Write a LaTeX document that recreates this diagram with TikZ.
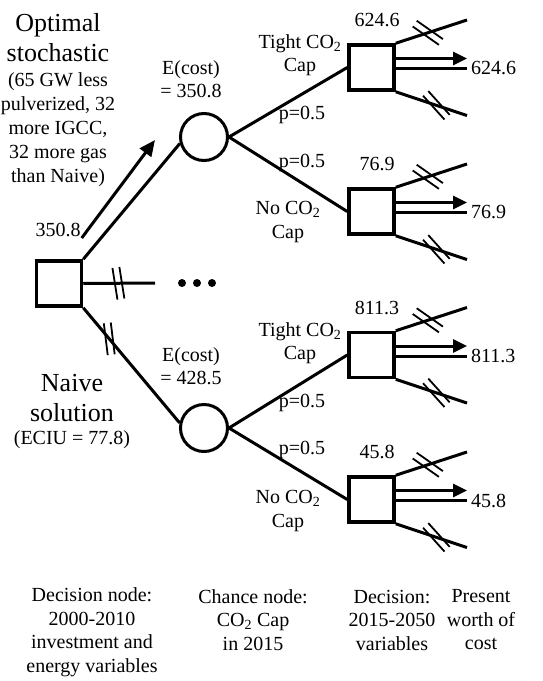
\documentclass[tikz,border=0pt]{standalone}
\usepackage{fontspec}
\setmainfont{Liberation Serif}
\usetikzlibrary{arrows.meta,calc}
\begin{document}
\begin{tikzpicture}[x=1pt,y=-1pt,
  every node/.style={inner sep=0pt},
  txt/.style={font=\fontsize{20}{23.5}\selectfont, align=center},
  bigtxt/.style={font=\fontsize{26}{30}\selectfont, align=center},
  decision/.style={draw, rectangle, line width=3.5pt, minimum size=45pt},
  chance/.style={draw, circle, line width=3pt, minimum size=47pt},
  branch/.style={line width=3pt},
  tickline/.style={line width=1.8pt},
  valarrow/.style={line width=3pt, -{Triangle[length=14pt,width=13pt]}},
  dbltick/.pic={\draw[tickline, rotate=#1] (-3.5,-16) -- (-3.5,16) (3.5,-16) -- (3.5,16);}
]
\useasboundingbox (0,0) rectangle (543,681);

% first-stage decision and its labels
\node[decision] (r) at (59,283.5) {};
\node[bigtxt] (opt) at (58,37.5) {Optimal\\stochastic};
\node[txt, font=\fontsize{20}{24}\selectfont] (optnote) at (58,130) {(65 GW less\\pulverized, 32\\more IGCC,\\32 more gas\\than Naive)};
\node[txt, inner sep=1pt] (v0) at (58,230) {350.8};
\node[bigtxt] (naive) at (72,398) {Naive\\solution};
\node[txt] (naivenote) at (72,440) {(ECIU = 77.8)};

% chance nodes
\node[chance] (c1) at (204,137) {};
\node[chance] (c2) at (204,428) {};
\node[txt, font=\fontsize{20}{22.5}\selectfont] (e1) at (191,79) {E(cost)\\= 350.8};
\node[txt, font=\fontsize{20}{22.5}\selectfont] (e2) at (191,366) {E(cost)\\= 428.5};

% first-stage branches
\coordinate (a0) at (155,140);
\coordinate (h0) at (155,283);
\draw[branch] (r.north east) -- (c1.195);
\draw[branch] (r.south east) -- (c2.168);
\draw[branch] (r.east) -- (h0);
\draw[valarrow, -{Triangle[length=16pt,width=14pt]}] (v0.south east) -- (a0);
\pic at ($(r.east)!0.49!(h0)$) {dbltick=9};
\pic at ($(r.south east)!0.27!(c2.168)$) {dbltick=7};
\foreach \dx in {182,197,212} \fill (\dx,283) circle (4);

% second-stage decision nodes
\foreach \s/\c/\v in {s1/67.5/624.6, s2/211.5/76.9, s3/355/811.3, s4/499.5/45.8} {
  \node[decision] (\s) at (371.5,\c) {};
  \node[txt] (\s-up) at (377,\c-47.5) {\v};
  \node[txt, anchor=west] (\s-val) at (471,\c+1) {\v};
  \coordinate (\s-t) at (467,\c-47.5);
  \coordinate (\s-b) at (467,\c+48);
  \coordinate (\s-a) at (467,\c-9);
  \coordinate (\s-l) at (467,\c+1);
  \draw[branch] (\s.north east) -- (\s-t);
  \draw[branch] (\s.south east) -- (\s-b);
  \draw[valarrow] ([yshift=9pt]\s.east) -- (\s-a);
  \draw[branch] ([yshift=-1pt]\s.east) -- (\s-l);
  \pic at ($(\s.north east)!0.45!(\s-t)$) {dbltick=55};
  \pic at ($(\s.south east)!0.57!(\s-b)$) {dbltick=42};
}

% chance branches
\draw[branch] (c1.east) -- (s1.west);
\draw[branch] (c1.east) -- (s2.west);
\draw[branch] (c2.east) -- (s3.west);
\draw[branch] (c2.east) -- (s4.west);
\node[txt] (t1) at (300,55) {Tight CO\textsubscript{2}\\Cap};
\node[txt] (n1) at (288,222) {No CO\textsubscript{2}\\Cap};
\node[txt] (t2) at (300,343) {Tight CO\textsubscript{2}\\Cap};
\node[txt] (n2) at (288,511) {No CO\textsubscript{2}\\Cap};
\node[txt] (p1) at (302,115) {p=0.5};
\node[txt] (p2) at (302,163) {p=0.5};
\node[txt] (p3) at (302,403) {p=0.5};
\node[txt] (p4) at (302,450) {p=0.5};

% column captions
\node[txt] (cap1) at (92,632) {Decision node:\\2000-2010\\investment and\\energy variables};
\node[txt] (cap2) at (253,620) {Chance node:\\CO\textsubscript{2} Cap\\in 2015};
\node[txt] (cap3) at (392,620) {Decision:\\2015-2050\\variables};
\node[txt] (cap4) at (481,620) {Present\\worth of\\cost};
\end{tikzpicture}
\end{document}
